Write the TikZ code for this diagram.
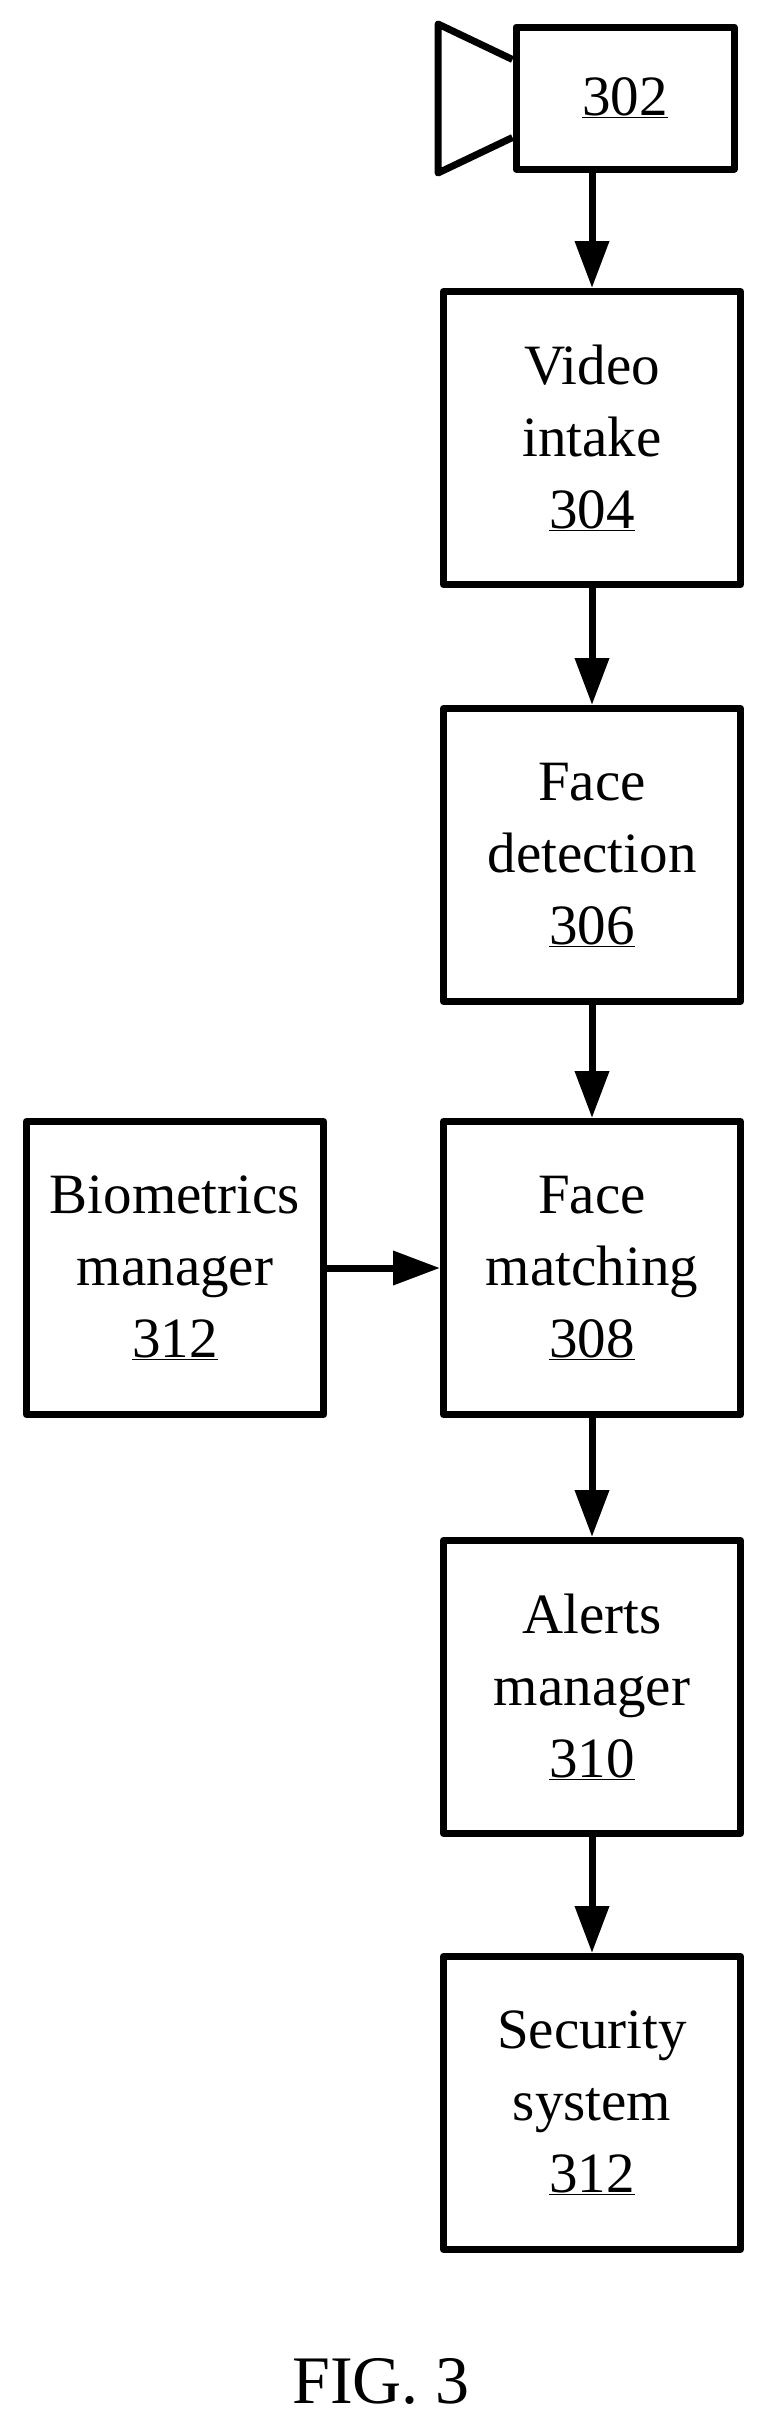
\documentclass[tikz,border=0pt]{standalone}
\usepackage{fontspec}
\setmainfont{Liberation Serif}
\usetikzlibrary{arrows.meta,positioning,calc}
\tikzset{
  blk/.style={draw, line width=7pt, line join=round, minimum width=297pt, minimum height=293pt,
    align=center, font=\fontsize{57}{72}\selectfont},
  arr/.style={line width=7pt, -{Triangle[length=47pt,width=33pt]}}
}
\begin{document}
\begin{tikzpicture}[x=1pt,y=-1pt]
    \useasboundingbox (0,0) rectangle (763,2425);
    % camera
    \node[blk, minimum width=218pt, minimum height=142pt] (cam) at (625,98) {\underline{302}};
    \draw[line width=7pt, line join=round] ($(cam.north west)+(0,36)$) -- (438,24) -- (438,173) -- ($(cam.south west)+(0,-35)$);
    % chain
    \node[blk] (vid) at (592,438) {Video\\intake\\\underline{304}};
    \node[blk] (det) at (592,855) {Face\\detection\\\underline{306}};
    \node[blk] (mat) at (592,1268) {Face\\matching\\\underline{308}};
    \node[blk] (bio) at (175,1268) {Biometrics\\manager\\\underline{312}};
    \node[blk] (alr) at (592,1687) {Alerts\\manager\\\underline{310}};
    \node[blk] (sec) at (592,2103) {Security\\system\\\underline{312}};
    \coordinate (camout) at (cam.south -| vid.north);
    \draw[arr] (camout) -- (vid.north);
    \draw[arr] (vid) -- (det);
    \draw[arr] (det) -- (mat);
    \draw[arr] (bio) -- (mat);
    \draw[arr] (mat) -- (alr);
    \draw[arr] (alr) -- (sec);
    \node[font=\fontsize{68}{76}\selectfont] (fig) at (381,2381) {FIG. 3};
\end{tikzpicture}
\end{document}
